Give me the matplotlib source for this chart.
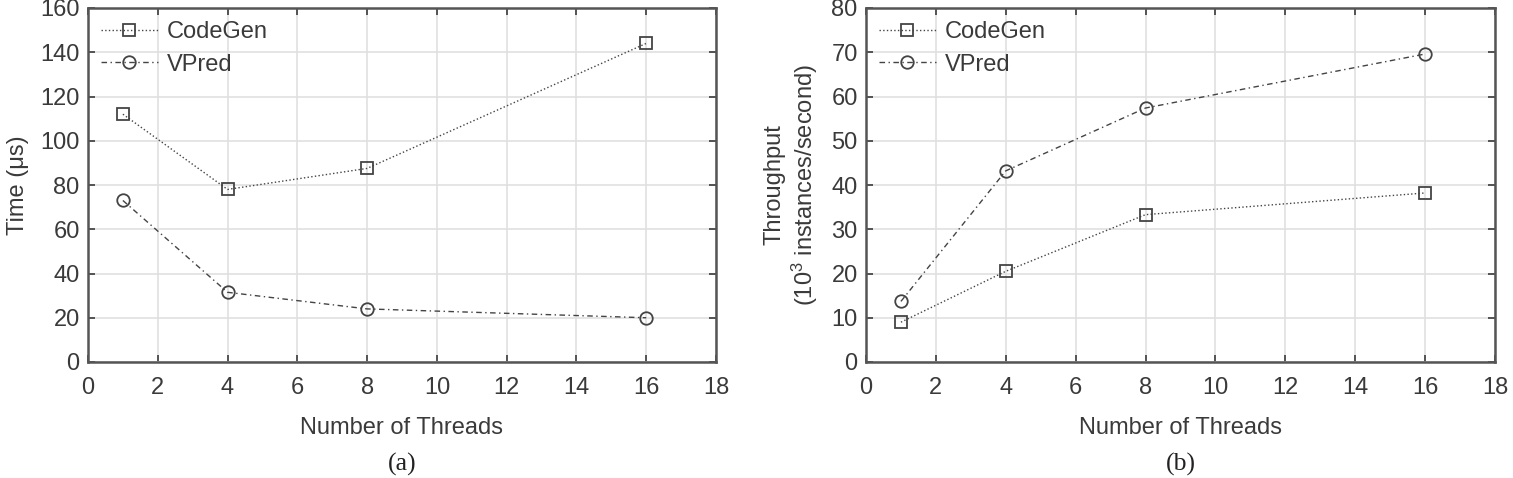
import matplotlib
matplotlib.use("Agg")
import matplotlib.pyplot as plt

threads = [1, 4, 8, 16]
time_codegen = [112, 78, 87.5, 144]
time_vpred = [73, 31.5, 24, 20]
tput_codegen = [9, 20.5, 33.3, 38.2]
tput_vpred = [13.7, 43.2, 57.4, 69.6]

plt.rcParams['font.family'] = ['Liberation Sans', 'DejaVu Sans']
plt.rcParams['mathtext.fontset'] = 'custom'
plt.rcParams['mathtext.rm'] = 'Liberation Sans'
plt.rcParams['mathtext.it'] = 'Liberation Sans'
txt = '#3a3a3a'
ln = '#444444'
fs = 17

fig = plt.figure(figsize=(15.13, 4.78), dpi=100)
ax1 = fig.add_axes([88 / 1513, 1 - 362 / 478, 628 / 1513, 354 / 478])
ax2 = fig.add_axes([866 / 1513, 1 - 362 / 478, 629 / 1513, 354 / 478])


def style(ax, ymax, ystep, ylabel, caption):
    ax.set_xlim(0, 18)
    ax.set_ylim(0, ymax)
    ax.set_xticks(range(0, 19, 2))
    ax.set_yticks(range(0, ymax + 1, ystep))
    ax.grid(True, color='#e0e0e0', linewidth=1.2)
    ax.set_axisbelow(True)
    ax.tick_params(direction='in', top=True, right=True, length=5,
                   labelsize=fs, colors=txt, width=1.2)
    ax.tick_params(axis='x', pad=11)
    ax.tick_params(axis='y', pad=6)
    for s in ax.spines.values():
        s.set_color('#555555')
        s.set_linewidth(1.8)
    ax.set_xlabel('Number of Threads', fontsize=fs, color=txt, labelpad=13)
    ax.set_ylabel(ylabel, fontsize=fs, color=txt, labelpad=8)
    ax.legend(loc='upper left', frameon=False, fontsize=fs, labelcolor=txt,
              handlelength=2.4, handletextpad=0.4, borderaxespad=0.15,
              labelspacing=0.45)
    ax.text(0.5, -0.29, caption, transform=ax.transAxes, ha='center',
            va='center', fontsize=18.5, family='Liberation Serif', color='#222222')


mk = dict(color=ln, markerfacecolor='none', markersize=9, linewidth=1.0,
          markeredgewidth=1.3)
ax1.plot(threads, time_codegen, linestyle=':', marker='s', label='CodeGen', **mk)
ax1.plot(threads, time_vpred, linestyle=(0, (4, 2.5, 1, 2.5)), marker='o',
         label='VPred', **mk)
style(ax1, 160, 20, 'Time (μs)', '(a)')

ax2.plot(threads, tput_codegen, linestyle=':', marker='s', label='CodeGen', **mk)
ax2.plot(threads, tput_vpred, linestyle=(0, (4, 2.5, 1, 2.5)), marker='o',
         label='VPred', **mk)
style(ax2, 80, 10, 'Throughput\n(10$^3$ instances/second)', '(b)')

fig.savefig('out.png', dpi=100)
